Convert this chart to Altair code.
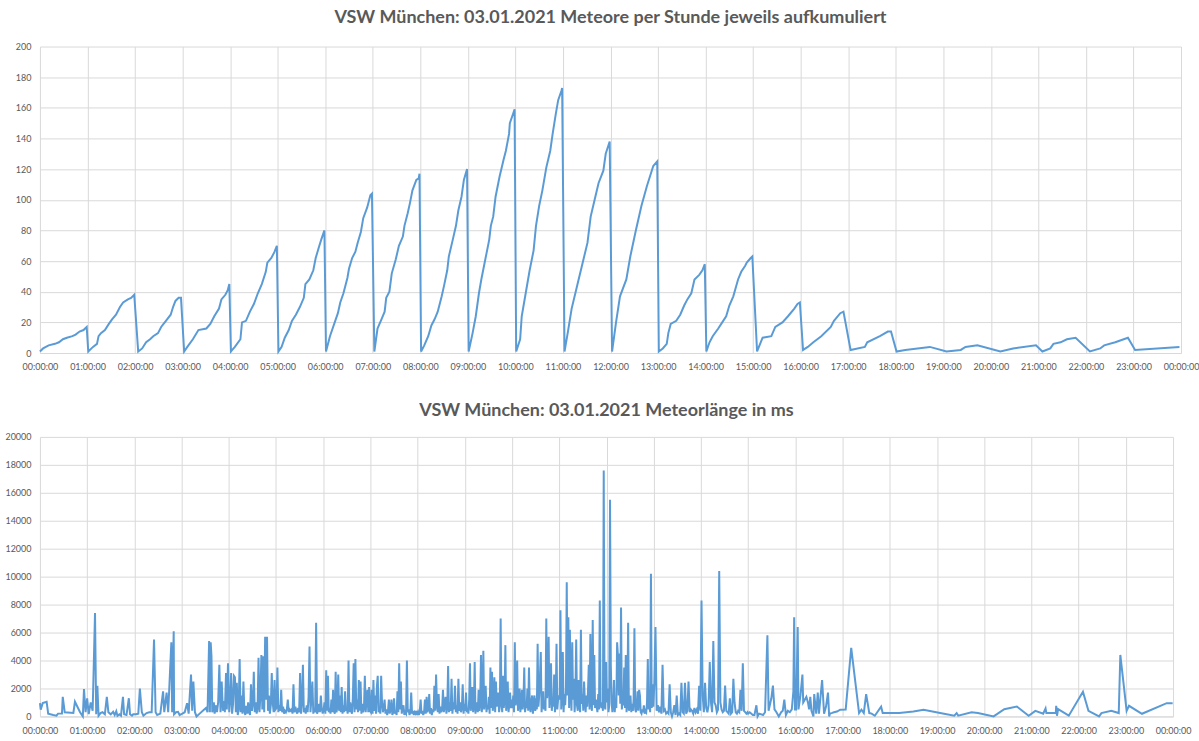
import altair as alt
import pandas as pd

FONT = "Lato"
GRAY = "#595959"
GRID = "#d9d9d9"
BLUE = "#5b9bd5"

TITLE_TOP = "VSW München: 03.01.2021 Meteore per Stunde jeweils aufkumuliert"
TITLE_BOTTOM = "VSW München: 03.01.2021 Meteorlänge in ms"

# ---------- top chart: cumulative meteors per hour, (minute of hour, count) ----------
cum_00 = [(0, 1), (4, 3), (11, 5), (19, 6), (24, 7), (29, 9), (34, 10), (41, 11), (45, 12), (50, 14), (55, 15), (59, 17)]
cum_01 = [(1, 1), (7, 4), (12, 6), (14, 11), (17, 13), (22, 15), (27, 19), (31, 22), (36, 25), (41, 30), (45, 33), (51, 35), (55, 36), (59, 38)]
cum_02 = [(4, 1), (9, 3), (14, 7), (19, 9), (23, 11), (29, 13), (33, 17), (36, 19), (39, 21), (45, 25), (48, 30), (51, 34), (55, 36), (58, 36)]
cum_03 = [(2, 1), (6, 4), (13, 9), (20, 15), (30, 16), (35, 19), (40, 24), (46, 29), (49, 35), (54, 38), (57, 41), (59, 45)]
cum_04 = [(1, 1), (6, 4), (13, 9), (15, 20), (20, 21), (25, 27), (30, 32), (35, 39), (40, 45), (45, 53), (47, 59), (52, 62), (56, 66), (59, 70)]
cum_05 = [(1, 1), (5, 4), (9, 10), (14, 15), (18, 21), (23, 25), (28, 30), (33, 36), (35, 45), (40, 48), (45, 54), (48, 62), (52, 69), (55, 74), (59, 80)]
cum_06 = [(1, 1), (6, 11), (12, 20), (16, 26), (19, 33), (23, 39), (28, 49), (30, 55), (34, 62), (38, 66), (41, 72), (45, 79), (48, 88), (53, 95), (57, 103), (59, 104)]
cum_07 = [(2, 1), (6, 16), (11, 22), (15, 27), (17, 36), (21, 40), (24, 52), (29, 61), (33, 70), (38, 76), (40, 83), (44, 91), (47, 98), (50, 106), (55, 113), (58, 114), (59, 117)]
cum_08 = [(1, 1), (5, 5), (10, 11), (14, 18), (18, 22), (22, 27), (27, 37), (30, 44), (34, 54), (36, 63), (41, 74), (45, 83), (48, 93), (52, 102), (55, 113), (59, 120)]
cum_09 = [(1, 1), (6, 13), (10, 24), (14, 39), (17, 48), (22, 61), (27, 74), (29, 83), (32, 89), (35, 102), (40, 115), (45, 126), (48, 132), (52, 143), (53, 150), (57, 156), (59, 159)]
cum_10 = [(1, 1), (6, 9), (8, 24), (13, 39), (18, 54), (23, 67), (26, 83), (30, 96), (34, 106), (39, 121), (44, 132), (47, 143), (51, 156), (54, 165), (58, 171), (59, 173)]
cum_11 = [(2, 1), (6, 13), (11, 29), (18, 44), (24, 57), (31, 72), (35, 89), (40, 100), (45, 111), (51, 119), (54, 130), (59, 138)]
cum_12 = [(2, 1), (7, 20), (12, 37), (20, 48), (25, 63), (32, 80), (39, 96), (46, 109), (54, 122), (59, 125)]
cum_13 = [(1, 1), (6, 3), (11, 6), (13, 13), (16, 19), (23, 21), (28, 25), (33, 31), (37, 35), (42, 39), (46, 48), (52, 51), (56, 54), (59, 58)]
cum_14 = [(1, 1), (5, 7), (9, 11), (16, 16), (21, 20), (26, 24), (30, 31), (35, 37), (41, 48), (45, 53), (50, 57), (52, 59), (57, 62), (59, 63)]
cum_15 = [(5, 1), (12, 10), (23, 11), (28, 17), (37, 20), (44, 24), (52, 29), (56, 32), (59, 33)]
cum_16 = [(3, 2), (9, 4), (16, 7), (26, 11), (38, 17), (42, 21), (50, 26), (54, 27)]
cum_17 = [(3, 2), (21, 4), (24, 7), (40, 11), (50, 14), (54, 14)]
cum_18 = [(1, 1), (12, 2), (43, 4)]
cum_19 = [(4, 1), (22, 2), (28, 4), (43, 5)]
cum_20 = [(12, 1), (28, 3), (57, 5)]
cum_21 = [(5, 1), (15, 3), (19, 6), (28, 7), (36, 9), (47, 10)]
cum_22 = [(5, 1), (18, 3), (23, 5), (37, 7), (53, 10)]
cum_23 = [(2, 2), (58, 4)]

cum_hours = [cum_00, cum_01, cum_02, cum_03, cum_04, cum_05, cum_06, cum_07,
             cum_08, cum_09, cum_10, cum_11, cum_12, cum_13, cum_14, cum_15,
             cum_16, cum_17, cum_18, cum_19, cum_20, cum_21, cum_22, cum_23]

# ---------- bottom chart: meteor length in ms ----------
# sparse hours: (minute of hour, ms); dense hours: successive readings within the hour
dur_00 = [(0, 950), (1, 480), (3.5, 950), (8.5, 1050), (10.5, 200), (17, 100), (21, 50), (23, 200), (28, 200), (29, 1400), (31.5, 300), (42.5, 250), (44.5, 1050), (51, 300), (54.5, 0), (56, 1950), (58, 300)]
dur_01 = [(0, 1300), (2, 170), (4.5, 1000), (7, 400), (10, 7400), (11.5, 150), (13, 2200), (14.5, 50), (17, 240), (19.5, 300), (22.5, 150), (25, 1400), (27, 300), (30, 150), (33, 330), (35, 100), (37, 380), (38.5, 50), (41, 150), (43, 50), (45.5, 1400), (47, 150), (50, 100), (53, 1300), (54.5, 150), (57, 50), (58.5, 150)]
dur_02 = [(2, 150), (5, 200), (7, 2000), (9.5, 300), (11.5, 50), (15.5, 240), (19, 300), (22, 300), (25, 5500), (27, 300), (29, 100), (33, 200), (36.5, 1800), (38, 300), (41, 1700), (43, 300), (47, 5300), (48, 300), (50, 6100), (50.5, 150), (53, 300), (55.5, 330), (57.5, 100), (59, 150)]
dur_03 = [(1, 200), (4, 300), (7, 950), (9, 200), (12, 3000), (13.5, 400), (15, 2500), (17, 300), (19, 0), (23, 200), (27, 400), (31, 600), (33, 300), (35, 5400), (36, 300), (37, 5300), (38, 4300), (39, 300), (41, 1000), (42, 200), (44, 800), (45, 300), (46.5, 1000), (48, 3700), (49.5, 300), (51, 2500), (52.5, 400), (54, 1100), (55, 300), (56.5, 3100), (57.5, 500), (59, 3800)]
dur_04 = [300, 1200, 3100, 200, 900, 2900, 2800, 300, 2400, 100, 600, 4100, 300, 1500, 200, 2500, 400, 100, 750, 200, 1000, 300, 100, 2300, 400, 900, 3200, 300, 1000, 200, 600, 4200, 300, 1500, 4400, 500, 4300, 300, 5700, 1200, 5700, 400, 1500, 200, 800, 3100, 1000, 300, 2600, 500]
dur_05 = [600, 3500, 300, 800, 400, 1900, 300, 700, 200, 400, 300, 500, 1200, 300, 500, 400, 500, 200, 2300, 300, 700, 400, 200, 600, 300, 3100, 200, 1000, 3700, 300, 600, 200, 800, 300, 1400, 5000, 300, 1200, 2500, 200, 600, 300, 6700, 200, 400, 900, 300, 1500, 500, 200]
dur_06 = [500, 1000, 200, 3300, 400, 2900, 300, 600, 200, 1200, 300, 1900, 400, 200, 3200, 300, 700, 3000, 400, 1500, 300, 2100, 200, 800, 300, 1800, 400, 600, 200, 4000, 300, 1000, 400, 200, 1300, 3800, 300, 4100, 500, 1200, 300, 2600, 400, 2500, 200, 900, 300, 600, 2900, 300, 1200, 1900, 300, 2100, 400]
dur_07 = [300, 1900, 200, 2600, 400, 1500, 200, 2100, 2900, 300, 600, 200, 2900, 1000, 300, 600, 1200, 200, 500, 100, 400, 1200, 200, 500, 1200, 100, 300, 1300, 200, 400, 100, 1800, 300, 3800, 500, 2500, 200, 600, 800, 100, 300, 200, 4000, 300, 500, 100, 300, 1700, 200, 400, 100, 300, 200, 400, 100]
dur_08 = [300, 100, 400, 1200, 200, 400, 100, 300, 1200, 200, 1400, 300, 500, 1600, 200, 600, 100, 500, 300, 2200, 400, 3000, 800, 300, 1600, 200, 700, 300, 500, 1900, 300, 800, 1400, 200, 600, 3600, 300, 1000, 400, 2700, 200, 1000, 500, 2200, 300, 800, 200, 2700, 400, 1000, 300, 600, 2300, 200, 900]
dur_09 = [400, 1700, 300, 600, 200, 1200, 3800, 400, 900, 2100, 300, 700, 3900, 200, 1000, 800, 300, 1900, 400, 1100, 4400, 300, 1000, 4700, 500, 1200, 2200, 300, 800, 500, 1400, 200, 3500, 600, 3200, 400, 1000, 2800, 300, 2500, 700, 1200, 1700, 300, 800, 7000, 1000, 300, 2900, 600, 1300, 5100, 400, 1000, 2500, 300, 800, 1700, 600, 1200]
dur_10 = [600, 1500, 300, 5300, 800, 1200, 4000, 400, 1000, 2000, 300, 800, 1900, 500, 1200, 3500, 300, 900, 600, 2000, 400, 3500, 800, 300, 1100, 1500, 200, 900, 1500, 400, 1300, 500, 5200, 700, 1500, 2900, 4600, 300, 1200, 1800, 500, 1000, 400, 7000, 1300, 2000, 5700, 600, 1500, 3800, 400, 1200, 700, 3000, 300, 1000, 5200, 500, 1200, 1500]
dur_11 = [1200, 7600, 500, 1500, 4600, 300, 1600, 800, 2000, 9600, 1500, 7100, 600, 6200, 1800, 400, 5300, 1200, 2700, 300, 1500, 5500, 800, 400, 2600, 1000, 300, 6200, 900, 1600, 400, 2500, 1100, 300, 1500, 700, 1800, 3700, 500, 5900, 1200, 400, 6900, 800, 4400, 600, 1200, 700, 300, 1600, 500, 8300, 900, 600, 1000, 400, 17600, 800, 500, 3900]
dur_12 = [1000, 2000, 300, 800, 15500, 3700, 1000, 300, 800, 2600, 300, 1200, 600, 5300, 4400, 1500, 4500, 900, 7800, 500, 1200, 800, 3500, 600, 4400, 300, 1000, 6700, 400, 800, 1500, 300, 900, 400, 1200, 6300, 500, 300, 800, 1800, 400, 1900, 1500, 300, 200, 500, 300, 800, 200, 400, 300, 1000, 4100, 500, 1000, 300, 10200, 600, 2300, 700]
dur_13 = [2300, 6400, 400, 800, 300, 700, 200, 3700, 400, 500, 200, 300, 200, 2300, 300, 0, 300, 800, 100, 1500, 100, 200, 100, 2400, 300, 200, 2400, 200, 400, 2500, 300, 500, 400, 200, 600, 300, 500, 200, 2200, 400]
dur_14 = [8300, 1500, 300, 2400, 600, 300, 800, 3900, 1000, 300, 5400, 1000, 800, 300, 500, 10400, 1000, 500, 300, 400, 2200, 400, 300, 200, 1300, 200, 300, 2700, 1000, 300, 200, 400, 300, 1900, 400, 3800, 400, 300, 200, 300]
dur_15 = [(0, 200), (2, 300), (6, 100), (8, 100), (10.5, 800), (12, 0), (14, 200), (19, 100), (21.5, 300), (24.5, 5800), (26, 400), (29.5, 1300), (31.5, 2200), (33.5, 500), (36, 300), (39, 0), (42, 300), (44, 400), (46, 1200), (48, 100), (50.5, 400), (53, 300), (55.5, 500), (57.5, 1800), (58.5, 7100), (59.5, 500)]
dur_16 = [(1, 500), (3, 6400), (4, 500), (6.5, 1500), (9, 3000), (10, 1000), (12, 1200), (14, 1400), (16, 1000), (17.5, 500), (19, 1400), (20.5, 400), (23, 0), (24, 1600), (26.5, 200), (28.5, 1700), (30, 200), (34, 2600), (36.5, 200), (39, 700), (41.5, 1700), (43, 0), (44, 200), (47, 250), (49, 300), (53, 350), (57, 480)]
dur_17 = [(4, 500), (11, 4900), (21, 240), (24, 480), (27, 240), (30, 1600), (34, 240), (37, 200), (41, 50), (49, 700), (51, 240)]
dur_18 = [(1, 250), (12, 250), (30, 350), (43, 480)]
dur_19 = [(4, 250), (22, 50), (25, 240), (27, 50), (44, 290), (52, 240)]
dur_20 = [(12, 0), (25.5, 520), (41.5, 710), (56.5, 50)]
dur_21 = [(5, 400), (15, 190), (18, 570), (19, 240), (31, 240), (31.5, 760), (32.5, 50), (34, 520), (47.5, 50)]
dur_22 = [(5.5, 1760), (12.5, 400), (26, 0), (29, 240), (41.5, 400), (51, 240), (53, 4400)]
dur_23 = [(1, 400), (4, 760), (20.5, 190), (52, 950), (59.5, 950)]

dur_hours = [dur_00, dur_01, dur_02, dur_03, dur_04, dur_05, dur_06, dur_07,
             dur_08, dur_09, dur_10, dur_11, dur_12, dur_13, dur_14, dur_15,
             dur_16, dur_17, dur_18, dur_19, dur_20, dur_21, dur_22, dur_23]

hour_ticks = list(range(25))
top_y_ticks = list(range(0, 201, 20))
bottom_y_ticks = list(range(0, 20001, 2000))

# ---------- tables ----------
top_rows = []
for h, knots in enumerate(cum_hours):
    for m, c in knots:
        top_rows.append({"hour": h + m / 60.0, "count": c})
top_df = pd.DataFrame(top_rows)

bot_rows = []
for h, vals in enumerate(dur_hours):
    if isinstance(vals[0], tuple):
        for m, v in vals:
            bot_rows.append({"hour": h + m / 60.0, "ms": v})
    else:
        n = len(vals)
        for i, v in enumerate(vals):
            bot_rows.append({"hour": h + (i + 0.5) / n, "ms": v})
bot_df = pd.DataFrame(bot_rows)

x_label = "format(datum.value % 24, '02d') + ':00:00'"


def x_axis():
    return alt.Axis(values=hour_ticks, labelExpr=x_label, title=None, grid=True,
                    gridColor=GRID, domainColor=GRID, ticks=False, labelFont=FONT,
                    labelFontSize=9, labelColor=GRAY, labelPadding=10, labelAngle=0,
                    labelOverlap=False, labelFlush=False)


def y_axis(vals, extent):
    return alt.Axis(values=vals, title=None, grid=True, gridColor=GRID, domain=False,
                    ticks=False, labelFont=FONT, labelFontSize=9, labelColor=GRAY,
                    labelPadding=9, minExtent=extent, maxExtent=extent, format="d")


def title(text, offset):
    return alt.TitleParams(text, font=FONT, fontSize=18, fontWeight="bold",
                           color=GRAY, anchor="middle", offset=offset)


top = alt.Chart(top_df, title=title(TITLE_TOP, 16)).mark_line(
    color=BLUE, strokeWidth=2
).encode(
    x=alt.X("hour:Q", scale=alt.Scale(domain=[0, 24], nice=False), axis=x_axis()),
    y=alt.Y("count:Q", scale=alt.Scale(domain=[0, 200], nice=False), axis=y_axis(top_y_ticks, 29)),
).properties(width=1143, height=307)

bottom = alt.Chart(bot_df, title=title(TITLE_BOTTOM, 13)).mark_line(
    color=BLUE, strokeWidth=2
).encode(
    x=alt.X("hour:Q", scale=alt.Scale(domain=[0, 24], nice=False), axis=x_axis()),
    y=alt.Y("ms:Q", scale=alt.Scale(domain=[0, 20000], nice=False), axis=y_axis(bottom_y_ticks, 40)),
).properties(width=1135, height=280)

chart = alt.vconcat(top, bottom, spacing=30).properties(
    padding={"left": 0, "top": 8, "right": 0, "bottom": 0},
    background="white",
).configure_view(stroke=None)

chart.save("out.html", embed_options={"renderer": "svg", "actions": False})
